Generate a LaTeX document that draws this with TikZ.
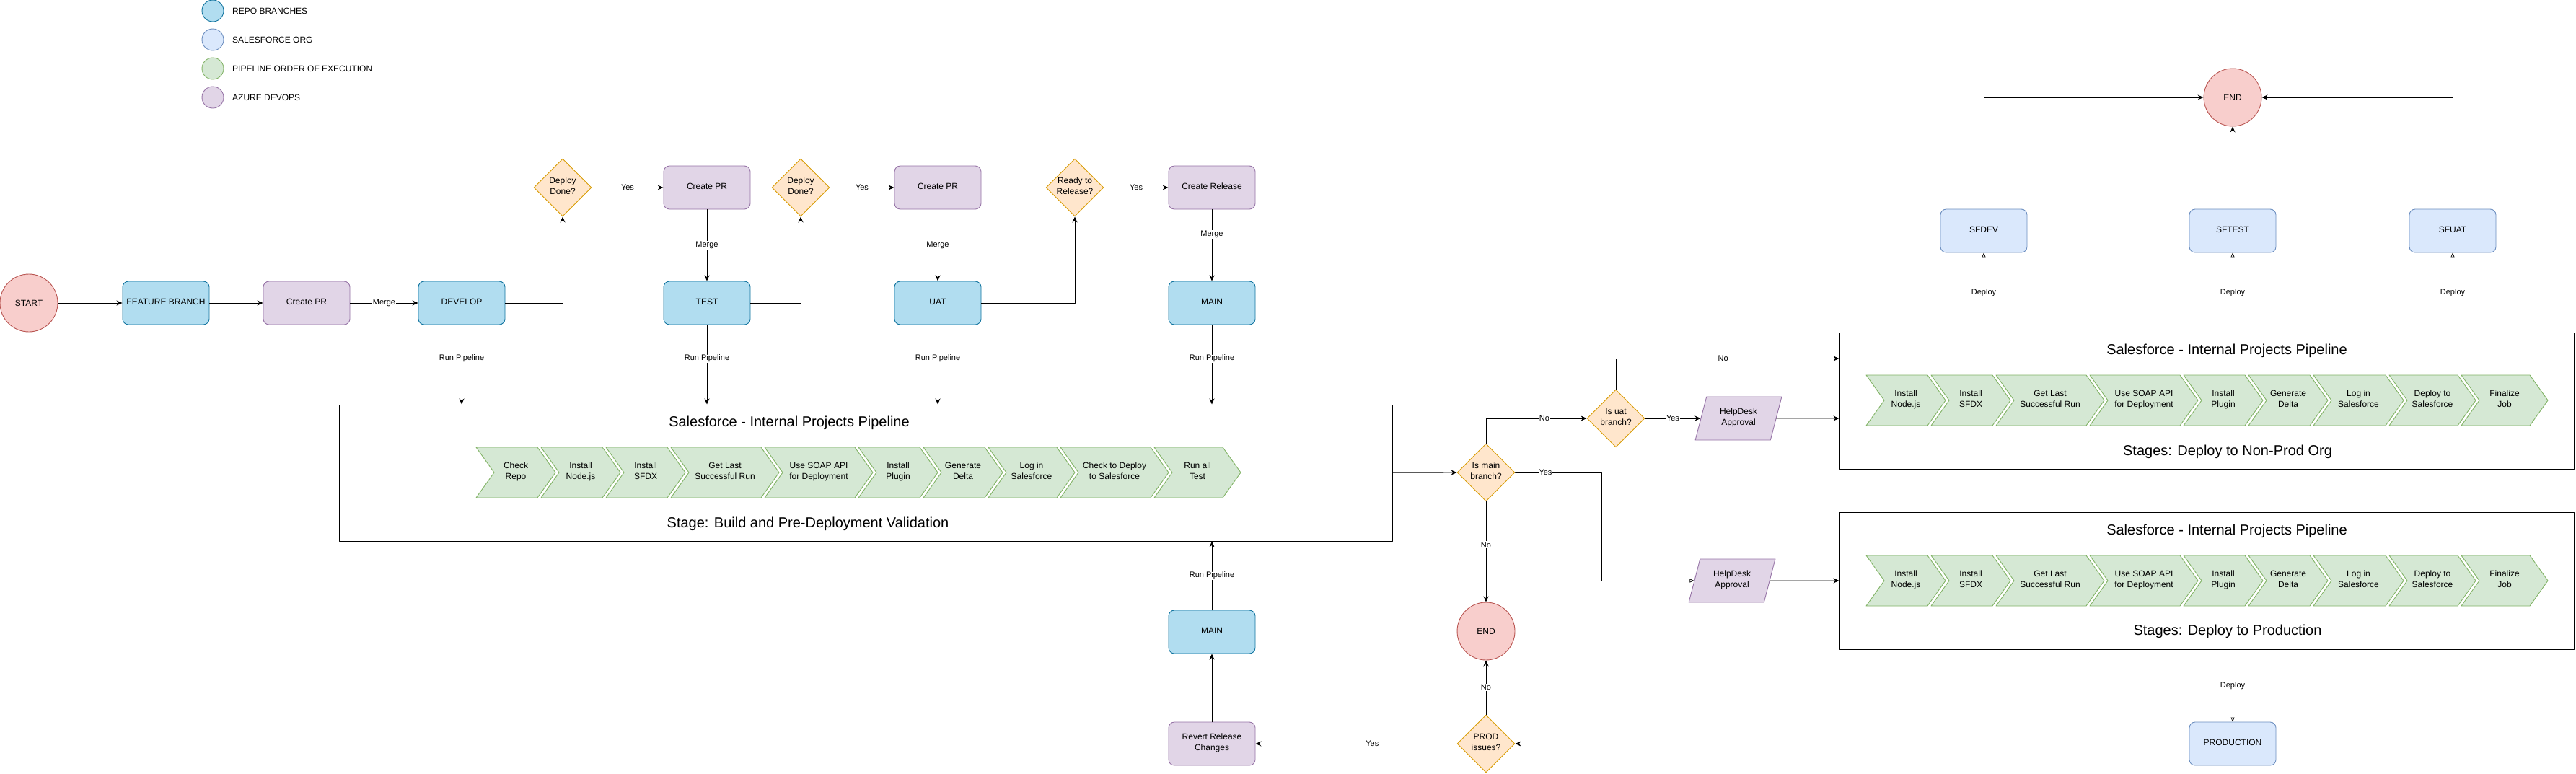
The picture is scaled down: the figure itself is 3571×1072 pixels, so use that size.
\documentclass[tikz,border=0pt]{standalone}
\usepackage{fontspec}
\setmainfont{Liberation Sans}
\usetikzlibrary{shapes.geometric, arrows.meta}

\definecolor{repofill}{HTML}{B1DDF0}
\definecolor{repoline}{HTML}{10739E}
\definecolor{orgfill}{HTML}{DAE8FC}
\definecolor{orgline}{HTML}{6C8EBF}
\definecolor{stepfill}{HTML}{D5E8D4}
\definecolor{stepline}{HTML}{82B366}
\definecolor{opsfill}{HTML}{E1D5E7}
\definecolor{opsline}{HTML}{9673A6}
\definecolor{askfill}{HTML}{FFE6CC}
\definecolor{askline}{HTML}{D79B00}
\definecolor{endfill}{HTML}{F8CECC}
\definecolor{endline}{HTML}{B85450}

\begin{document}
\begin{tikzpicture}[x=1pt, y=-1pt, line cap=round, line join=round,
    box/.style={rounded corners=8pt, minimum width=120pt, minimum height=60pt, align=center, line width=0.9pt, font=\fontsize{12}{14.5}\selectfont, execute at begin node=\strut, execute at end node=\strut},
    branch/.style={box, draw=repoline, fill=repofill},
    sforg/.style={box, draw=orgline, fill=orgfill},
    devops/.style={box, draw=opsline, fill=opsfill},
    ask/.style={diamond, draw=askline, fill=askfill, minimum width=80pt, minimum height=80pt, inner sep=0pt, line width=0.9pt},
    asktxt/.style={align=center, font=\fontsize{12}{14.5}\selectfont, execute at begin node=\strut, execute at end node=\strut},
    ring/.style={circle, draw=endline, fill=endfill, minimum size=80pt, inner sep=0pt, line width=0.9pt, font=\fontsize{12}{14.5}\selectfont},
    help/.style={trapezium, trapezium left angle=71.6, trapezium right angle=108.4, trapezium stretches=true, minimum width=120pt, minimum height=60pt, inner sep=0pt, draw=opsline, fill=opsfill, align=center, line width=0.9pt, font=\fontsize{12}{14.5}\selectfont, execute at begin node=\strut, execute at end node=\strut},
    pipebox/.style={draw, line width=1pt, inner sep=0pt},
    chev/.style={draw=stepline, fill=stepfill, line width=0.9pt},
    chevtxt/.style={align=center, font=\fontsize{12}{14.5}\selectfont, execute at begin node=\strut, execute at end node=\strut},
    title/.style={font=\fontsize{20}{24}\selectfont},
    lbl/.style={fill=white, inner sep=1pt, font=\fontsize{11}{13}\selectfont},
    legdot/.style={circle, minimum size=30pt, inner sep=0pt, line width=0.9pt},
    legtxt/.style={anchor=west, inner sep=0pt, font=\fontsize{12}{14.5}\selectfont},
    flow/.style={line width=0.9pt, -{Stealth[length=8pt,width=7pt]}},
    hollow/.style={line width=0.7pt, -{Triangle[open,length=6pt,width=5pt]}}]
    \useasboundingbox (0,0) rectangle (3571,1072);

    % 凡例
    \node[legdot, draw=repoline, fill=repofill] (lgrepo) at (295,15) {};
    \node[legtxt] (lgrepotxt) at (322,15) {REPO BRANCHES};
    \node[legdot, draw=orgline, fill=orgfill] (lgorg) at (295,55) {};
    \node[legtxt] (lgorgtxt) at (322,55) {SALESFORCE ORG};
    \node[legdot, draw=stepline, fill=stepfill] (lgstep) at (295,95) {};
    \node[legtxt] (lgsteptxt) at (322,95) {PIPELINE ORDER OF EXECUTION};
    \node[legdot, draw=opsline, fill=opsfill] (lgops) at (295,135) {};
    \node[legtxt] (lgopstxt) at (322,135) {AZURE DEVOPS};

    % ブランチと PR
    \node[ring] (start) at (40,420) {START};
    \node[branch] (feature) at (230,420) {FEATURE BRANCH};
    \node[devops] (pr1) at (425,420) {Create PR};
    \node[branch] (develop) at (640,420) {DEVELOP};
    \node[ask, label={[asktxt]center:{Deploy\\Done?}}] (dd1) at (780,260) {};
    \node[devops] (pr2) at (980,260) {Create PR};
    \node[branch] (test) at (980,420) {TEST};
    \node[ask, label={[asktxt]center:{Deploy\\Done?}}] (dd2) at (1110,260) {};
    \node[devops] (pr3) at (1300,260) {Create PR};
    \node[branch] (uat) at (1300,420) {UAT};
    \node[ask, label={[asktxt]center:{Ready to\\Release?}}] (ready) at (1490,260) {};
    \node[devops] (release) at (1680,260) {Create Release};
    \node[branch] (main) at (1680,420) {MAIN};

    % ビルド用パイプライン
    \node[pipebox, minimum width=1460pt, minimum height=189pt] (buildbox) at (1200,655.5) {};
    \node[title] (buildtitle) at (1094,586) {Salesforce - Internal Projects Pipeline};
    \node[title] (buildstage) at (1120,726) {Stage: Build and Pre-Deployment Validation};
    \foreach \sx/\sw/\txt in {660/110/{Check\\Repo}, 750/110/{Install\\Node.js}, 840/110/{Install\\SFDX}, 930/150/{Get Last\\Successful Run}, 1060/150/{Use SOAP API\\for Deployment}, 1190/110/{Install\\Plugin}, 1280/110/{Generate\\Delta}, 1370/120/{Log in\\Salesforce}, 1470/150/{Check to Deploy\\to Salesforce}, 1600/120/{Run all\\Test}}{
        \draw[chev] (\sx,620) -- (\sx+\sw-25,620) -- (\sx+\sw,655) -- (\sx+\sw-25,690) -- (\sx,690) -- (\sx+25,655) -- cycle;
        \node[chevtxt] (b\sx) at (\sx+\sw/2,655) {\txt};
    }

    % 戻し用
    \node[branch] (mainfix) at (1680,876) {MAIN};
    \node[devops] (revert) at (1680,1031) {Revert Release\\Changes};
    \node[ring] (endlow) at (2060,875) {END};
    \node[ask, label={[asktxt]center:{PROD\\issues?}}] (prodask) at (2060,1031) {};
    \node[sforg] (production) at (3095,1031) {PRODUCTION};

    % 分岐
    \node[ask, label={[asktxt]center:{Is main\\branch?}}] (ismain) at (2060,655) {};
    \node[ask, label={[asktxt]center:{Is uat\\branch?}}] (isuat) at (2240,580) {};
    \node[help] (help1) at (2410,580) {HelpDesk\\Approval};
    \node[help] (help2) at (2401,805) {HelpDesk\\Approval};

    % デプロイ用パイプライン
    \node[pipebox, minimum width=1018pt, minimum height=189pt] (nonprodbox) at (3059,555.5) {};
    \node[title] (nonprodtitle) at (3087,486) {Salesforce - Internal Projects Pipeline};
    \node[title] (nonprodstage) at (3088,626) {Stages: Deploy to Non-Prod Org};
    \node[pipebox, minimum width=1018pt, minimum height=190pt] (prodbox) at (3059,805) {};
    \node[title] (prodtitle) at (3087,736) {Salesforce - Internal Projects Pipeline};
    \node[title] (prodstage) at (3088,875) {Stages: Deploy to Production};
    \foreach \yc in {555,805}{
        \foreach \sx/\sw/\txt in {2587/110/{Install\\Node.js}, 2677/110/{Install\\SFDX}, 2767/150/{Get Last\\Successful Run}, 2897/150/{Use SOAP API\\for Deployment}, 3027/110/{Install\\Plugin}, 3117/110/{Generate\\Delta}, 3207/125/{Log in\\Salesforce}, 3312/120/{Deploy to\\Salesforce}, 3412/120/{Finalize\\Job}}{
            \draw[chev] (\sx,\yc-35) -- (\sx+\sw-25,\yc-35) -- (\sx+\sw,\yc) -- (\sx+\sw-25,\yc+35) -- (\sx,\yc+35) -- (\sx+25,\yc) -- cycle;
            \node[chevtxt] (d\yc-\sx) at (\sx+\sw/2,\yc) {\txt};
        }
    }

    % Salesforce の組織
    \node[sforg] (sfdev) at (2750,320) {SFDEV};
    \node[sforg] (sftest) at (3095,320) {SFTEST};
    \node[sforg] (sfuat) at (3400,320) {SFUAT};
    \node[ring] (endtop) at (3095,135) {END};

    % 上の流れ
    \draw[flow] (start) -- (feature);
    \draw[flow] (feature) -- (pr1);
    \draw[flow] (pr1) -- node[lbl]{Merge} (develop);
    \draw[flow] (develop) -| (dd1);
    \draw[flow] (dd1) -- node[lbl]{Yes} (pr2);
    \draw[flow] (pr2) -- node[lbl]{Merge} (test);
    \draw[flow] (test) -| (dd2);
    \draw[flow] (dd2) -- node[lbl]{Yes} (pr3);
    \draw[flow] (pr3) -- node[lbl]{Merge} (uat);
    \draw[flow] (uat) -| (ready);
    \draw[flow] (ready) -- node[lbl]{Yes} (release);
    \draw[flow] (release) -- node[lbl, pos=0.35]{Merge} (main);

    % パイプラインの実行
    \draw[flow] (develop) -- node[lbl, pos=0.42]{Run Pipeline} (develop |- buildbox.north);
    \draw[flow] (test) -- node[lbl, pos=0.42]{Run Pipeline} (test |- buildbox.north);
    \draw[flow] (uat) -- node[lbl, pos=0.42]{Run Pipeline} (uat |- buildbox.north);
    \draw[flow] (main) -- node[lbl, pos=0.42]{Run Pipeline} (main |- buildbox.north);
    \draw[flow] (mainfix) -- node[lbl]{Run Pipeline} (mainfix |- buildbox.south);
    \draw[flow] (revert) -- (mainfix);

    % 分岐の矢印
    \draw[flow] (buildbox) -- (ismain);
    \draw[flow] (ismain) |- node[lbl, pos=0.79]{No} (isuat);
    \draw[hollow] (ismain.east) -- node[lbl, pos=0.35]{Yes} ++(120,0) |- (help2);
    \draw[flow] (ismain) -- node[lbl, pos=0.43]{No} (endlow);
    \draw[flow] (isuat) |- node[lbl, pos=0.74]{No} (nonprodbox.west |- 0,497);
    \draw[flow] (isuat) -- node[lbl]{Yes} (help1);
    \draw[flow] (help1) -- (help1 -| nonprodbox.west);
    \draw[flow] (help2) -- (help2 -| prodbox.west);

    % デプロイ先
    \draw[hollow] (sfdev |- nonprodbox.north) -- node[lbl]{Deploy} (sfdev);
    \draw[hollow] (sftest |- nonprodbox.north) -- node[lbl]{Deploy} (sftest);
    \draw[hollow] (sfuat |- nonprodbox.north) -- node[lbl]{Deploy} (sfuat);
    \draw[flow] (sfdev) |- (endtop);
    \draw[flow] (sftest) -- (endtop);
    \draw[flow] (sfuat) |- (endtop);
    \draw[hollow] (prodbox.south -| production) -- node[lbl]{Deploy} (production);

    % 本番の確認
    \draw[flow] (production) -- (prodask);
    \draw[flow] (prodask) -- node[lbl]{No} (endlow);
    \draw[flow] (prodask) -- node[lbl, pos=0.42]{Yes} (revert);
\end{tikzpicture}
\end{document}
